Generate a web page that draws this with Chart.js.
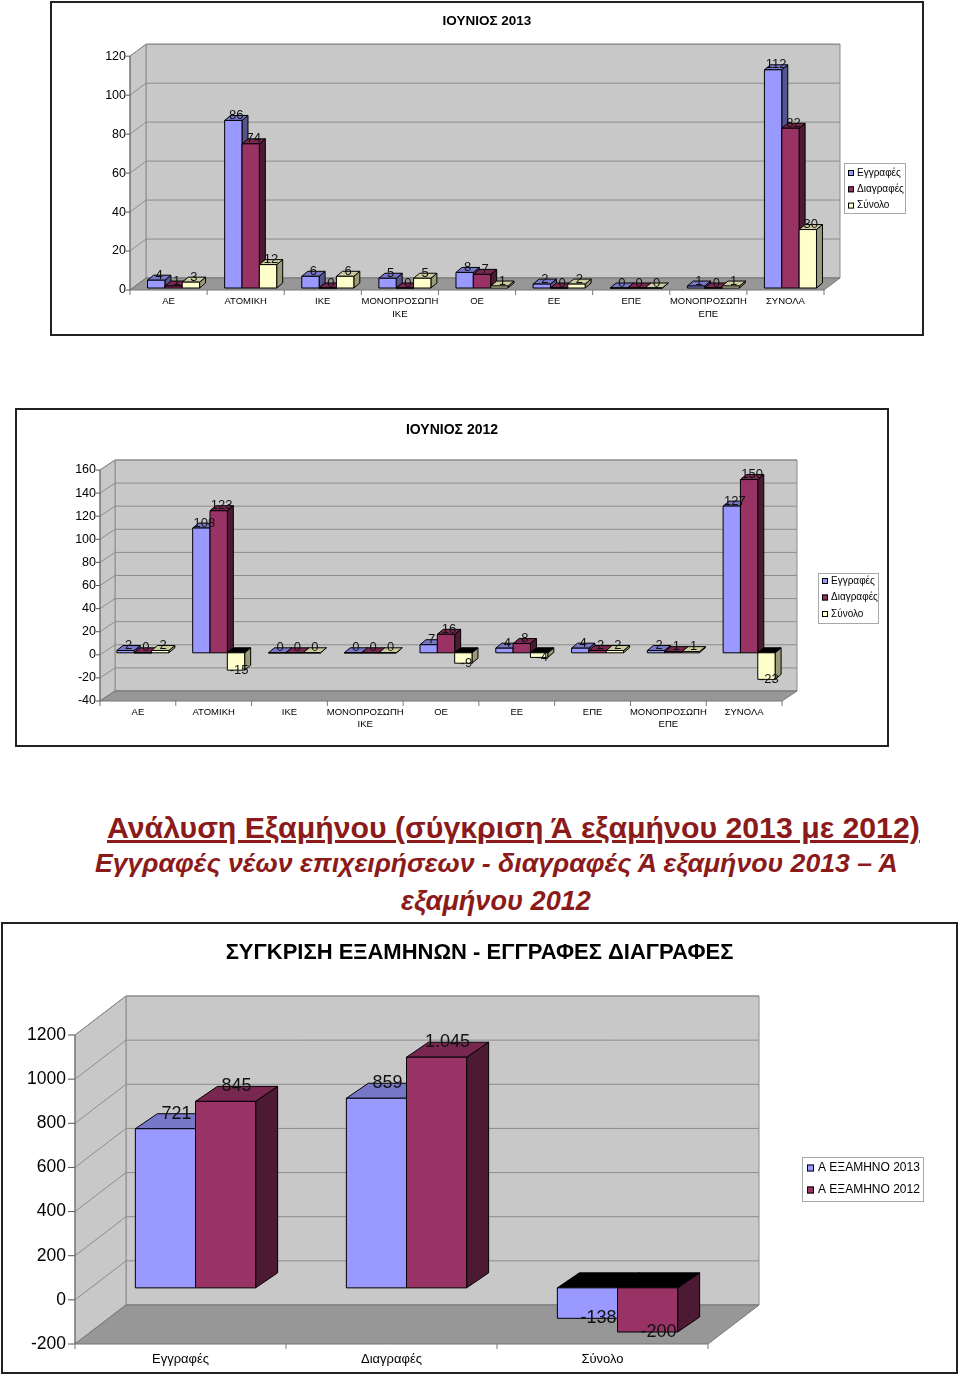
<!DOCTYPE html>
<html>
<head>
<meta charset="utf-8">
<title>Εγγραφές - Διαγραφές επιχειρήσεων</title>
<script src="https://cdn.jsdelivr.net/npm/chart.js@4.4.1/dist/chart.umd.min.js"></script>
<style>
    body { margin: 0; background: #fff; font-family: 'Liberation Sans', Arial, sans-serif; }
    #page { position: relative; width: 960px; height: 1377px; overflow: hidden; }
    .box { position: absolute; border: 2px solid #222; box-sizing: border-box; background: #fff; }
    .box canvas { position: absolute; left: 0; top: 0; }
    .head { position: absolute; white-space: nowrap; color: #8B1A1A; font-weight: bold; font-size: 30px; line-height: 1; }
</style>
</head>
<body>
<div id="page">
    <div class="box" style="left:50px;top:1px;width:874px;height:335px"><canvas id="june2013" width="870" height="331"></canvas></div>
    <div class="box" style="left:15px;top:408px;width:874px;height:339px"><canvas id="june2012" width="870" height="335"></canvas></div>
    <div class="head" data-left="107" data-width="813" data-base="839" style="text-decoration:underline">Ανάλυση Εξαμήνου (σύγκριση Ά εξαμήνου 2013 με 2012)</div>
    <div class="head" data-left="95" data-width="803" data-base="873" style="font-style:italic">Εγγραφές νέων επιχειρήσεων - διαγραφές Ά εξαμήνου 2013 – Ά</div>
    <div class="head" data-left="401" data-width="190" data-base="910" style="font-style:italic">εξαμήνου 2012</div>
    <div class="box" style="left:1px;top:922px;width:957px;height:452px"><canvas id="semester" width="953" height="448"></canvas></div>
</div>
<script>
// data
const companyTypes = ['ΑΕ', 'ΑΤΟΜΙΚΗ', 'ΙΚΕ', ['ΜΟΝΟΠΡΟΣΩΠΗ', 'ΙΚΕ'], 'ΟΕ', 'ΕΕ', 'ΕΠΕ', ['ΜΟΝΟΠΡΟΣΩΠΗ', 'ΕΠΕ'], 'ΣΥΝΟΛΑ'];
const seriesNames = ['Εγγραφές', 'Διαγραφές', 'Σύνολο'];

const reg2013 = [4, 86, 6, 5, 8, 2, 0, 1, 112];
const del2013 = [1, 74, 0, 0, 7, 0, 0, 0, 82];
const net2013 = [3, 12, 6, 5, 1, 2, 0, 1, 30];

const reg2012 = [2, 108, 0, 0, 7, 4, 4, 2, 127];
const del2012 = [0, 123, 0, 0, 16, 8, 2, 1, 150];
const net2012 = [2, -15, 0, 0, -9, -4, 2, 1, -23];

const semesterCats = ['Εγγραφές', 'Διαγραφές', 'Σύνολο'];
const semesterNames = ['Α ΕΞΑΜΗΝΟ 2013', 'Α ΕΞΑΜΗΝΟ 2012'];
const semester2013 = [721, 859, -138];
const semester2012 = [845, 1045, -200];

// axis ranges: [min, max, step]
const range2013 = [0, 120, 20];
const range2012 = [-40, 160, 20];
const rangeSemester = [-200, 1200, 200];

const FONT = "'Liberation Sans', Arial, sans-serif";
Chart.defaults.font.family = FONT;

// front, top, side
const BLUE = ['#9999FF', '#7777C8', '#55558E'];
const RED = ['#993366', '#782850', '#4C1A33'];
const YELLOW = ['#FFFFCC', '#CCCCA0', '#9A9A78'];

function series(label, data, colors) {
    return {
        label: label,
        data: data,
        yAxisID: 'y',
        backgroundColor: colors[0],
        topColor: colors[1],
        sideColor: colors[2],
        borderColor: '#000'
    };
}

function fmt(v) {
    return String(v).replace(/\B(?=(\d{3})+(?!\d))/g, '.');
}

// Excel-like 3D walls, floor and bars
const box3d = {
    id: 'box3d',
    beforeDatasetsDraw(chart, args, o) {
        const ctx = chart.ctx, a = chart.chartArea;
        const xs = chart.scales.x, ys = chart.scales.y;
        const [wx, wy] = o.wall, [ox, oy] = o.shift, [dx, dy] = o.depth;

        const poly = (pts, fill, stroke) => {
            ctx.beginPath();
            pts.forEach((p, k) => k ? ctx.lineTo(p[0], p[1]) : ctx.moveTo(p[0], p[1]));
            ctx.closePath();
            ctx.fillStyle = fill;
            ctx.fill();
            if (stroke) { ctx.strokeStyle = stroke; ctx.stroke(); }
        };
        const line = (x1, y1, x2, y2, color) => {
            ctx.beginPath();
            ctx.moveTo(x1, y1);
            ctx.lineTo(x2, y2);
            ctx.strokeStyle = color;
            ctx.stroke();
        };

        ctx.save();
        ctx.lineWidth = 1;

        // back wall and side wall
        poly([[a.left + wx, a.top + wy], [a.right + wx, a.top + wy], [a.right + wx, a.bottom + wy], [a.left + wx, a.bottom + wy]], '#C8C8C8', '#8C8C8C');
        poly([[a.left, a.top], [a.left + wx, a.top + wy], [a.left + wx, a.bottom + wy], [a.left, a.bottom]], '#C8C8C8', '#8C8C8C');

        ys.ticks.forEach(t => {
            const py = ys.getPixelForValue(t.value);
            line(a.left, py, a.left + wx, py + wy, '#8C8C8C');
            line(a.left + wx, py + wy, a.right + wx, py + wy, '#8C8C8C');
            line(a.left - o.tickLen, py, a.left, py, '#555');
        });

        // floor
        poly([[a.left, a.bottom], [a.right, a.bottom], [a.right + wx, a.bottom + wy], [a.left + wx, a.bottom + wy]], '#979797', '#777');
        line(a.left, a.top, a.left, a.bottom, '#666');
        for (let i = 0; i <= chart.data.labels.length; i++) {
            const px = xs.getPixelForValue(i - 0.5);
            line(px, a.bottom, px, a.bottom + 5, '#777');
        }

        // bars, category by category, left to right
        const metas = chart.getSortedVisibleDatasetMetas();
        chart.data.labels.forEach((lab, i) => {
            metas.forEach(meta => {
                const ds = chart.data.datasets[meta.index];
                const bar = meta.data[i];
                const l = bar.x - bar.width / 2 + ox, r = bar.x + bar.width / 2 + ox;
                const t = Math.min(bar.y, bar.base) + oy, b = Math.max(bar.y, bar.base) + oy;
                poly([[r, t], [r + dx, t + dy], [r + dx, b + dy], [r, b]], ds.sideColor, ds.borderColor);
                poly([[l, t], [l + dx, t + dy], [r + dx, t + dy], [r, t]], ds.data[i] < 0 ? '#000' : ds.topColor, ds.borderColor);
                poly([[l, t], [r, t], [r, b], [l, b]], ds.backgroundColor, ds.borderColor);
            });
        });

        ctx.restore();
        return false;
    },
    afterDraw(chart, args, o) {
        const ctx = chart.ctx;
        ctx.save();

        // value labels
        ctx.font = o.labelFont;
        ctx.fillStyle = '#111';
        ctx.textAlign = 'center';
        ctx.textBaseline = 'middle';
        chart.getSortedVisibleDatasetMetas().forEach(meta => {
            const ds = chart.data.datasets[meta.index];
            meta.data.forEach((bar, i) => {
                const v = ds.data[i];
                const px = bar.x + o.shift[0] + o.depth[0] / 2;
                const py = (v < 0 ? bar.y : bar.y + o.depth[1]) + o.shift[1];
                ctx.fillText(fmt(v), px, py);
            });
        });

        // legend box
        const lg = o.legend;
        ctx.lineWidth = 1;
        ctx.strokeStyle = '#A8A8A8';
        ctx.strokeRect(lg.x + 0.5, lg.y + 0.5, lg.w, lg.h);
        ctx.font = lg.font;
        ctx.textAlign = 'left';
        chart.data.datasets.forEach((ds, k) => {
            const ry = lg.y + lg.first + k * lg.step;
            ctx.fillStyle = ds.backgroundColor;
            ctx.fillRect(lg.mx, ry - lg.size / 2, lg.size, lg.size);
            ctx.strokeStyle = '#000';
            ctx.strokeRect(lg.mx + 0.5, ry - lg.size / 2 + 0.5, lg.size - 1, lg.size - 1);
            ctx.fillStyle = '#000';
            ctx.fillText(ds.label, lg.tx, ry);
        });
        ctx.restore();
    }
};

function buildChart(id, labels, datasets, range, s) {
    return new Chart(document.getElementById(id), {
        type: 'bar',
        data: { labels: labels, datasets: datasets },
        plugins: [box3d],
        options: {
            responsive: false,
            animation: false,
            layout: { padding: 0 },
            datasets: { bar: { categoryPercentage: s.group, barPercentage: 1 } },
            scales: {
                x: {
                    grid: { display: false, drawTicks: false },
                    border: { display: false },
                    ticks: { font: s.xFont, color: '#000', padding: s.xPad, maxRotation: 0, autoSkip: false },
                    afterFit: sc => { sc.height = s.xHeight; }
                },
                y: {
                    min: range[0],
                    max: range[1],
                    grid: { display: false, drawTicks: false },
                    border: { display: false },
                    ticks: { stepSize: range[2], font: s.yFont, color: '#000', padding: s.yPad, callback: v => String(v) },
                    afterFit: sc => { sc.width = s.yWidth; }
                },
                pad: {
                    type: 'linear',
                    position: 'right',
                    grid: { display: false, drawTicks: false },
                    border: { display: false },
                    ticks: { display: false },
                    afterFit: sc => { sc.width = s.padWidth; }
                }
            },
            plugins: {
                legend: { display: false },
                tooltip: { enabled: false },
                title: {
                    display: true,
                    text: s.title,
                    color: '#000',
                    font: s.titleFont,
                    padding: s.titlePad
                },
                box3d: s.box
            }
        }
    });
}

buildChart('june2013', companyTypes, [
    series(seriesNames[0], reg2013, BLUE),
    series(seriesNames[1], del2013, RED),
    series(seriesNames[2], net2013, YELLOW)
], range2013, {
    title: 'ΙΟΥΝΙΟΣ 2013',
    titleFont: { size: 13.5, weight: 'bold' },
    titlePad: { top: 10, bottom: 27 },
    group: 0.675,
    xFont: { size: 9.5, lineHeight: 1.37 },
    xPad: 4.5,
    xHeight: 44,
    yFont: { size: 12.5 },
    yPad: 4,
    yWidth: 78,
    padWidth: 98,
    box: {
        wall: [16, -12], shift: [5, -2], depth: [6, -5], tickLen: 4,
        labelFont: '13px ' + FONT,
        legend: { x: 792, y: 160, w: 61, h: 50, mx: 796, size: 6, tx: 805, first: 10, step: 16.3, font: '10px ' + FONT }
    }
});

buildChart('june2012', companyTypes, [
    series(seriesNames[0], reg2012, BLUE),
    series(seriesNames[1], del2012, RED),
    series(seriesNames[2], net2012, YELLOW)
], range2012, {
    title: 'ΙΟΥΝΙΟΣ 2012',
    titleFont: { size: 14, weight: 'bold' },
    titlePad: { top: 11.6, bottom: 31.6 },
    group: 0.686,
    xFont: { size: 9.5, lineHeight: 1.3 },
    xPad: 4.8,
    xHeight: 44,
    yFont: { size: 12.5 },
    yPad: 4,
    yWidth: 83,
    padWidth: 105,
    box: {
        wall: [15, -10], shift: [5, -2], depth: [6, -5], tickLen: 4,
        labelFont: '13px ' + FONT,
        legend: { x: 801, y: 163, w: 60, h: 50, mx: 805, size: 6, tx: 814, first: 8, step: 16.5, font: '10px ' + FONT }
    }
});

buildChart('semester', semesterCats, [
    series(semesterNames[0], semester2013, BLUE),
    series(semesterNames[1], semester2012, RED)
], rangeSemester, {
    title: 'ΣΥΓΚΡΙΣΗ ΕΞΑΜΗΝΩΝ - ΕΓΓΡΑΦΕΣ ΔΙΑΓΡΑΦΕΣ',
    titleFont: { size: 22, weight: 'bold' },
    titlePad: { top: 15.8, bottom: 68.8 },
    group: 0.57,
    xFont: { size: 13 },
    xPad: 8,
    xHeight: 28,
    yFont: { size: 17.5 },
    yPad: 9,
    yWidth: 72,
    padWidth: 248,
    box: {
        wall: [51, -39], shift: [15, -12], depth: [22, -15], tickLen: 7,
        labelFont: '18px ' + FONT,
        legend: { x: 799, y: 233, w: 121, h: 44, mx: 804, size: 7, tx: 815, first: 11, step: 22, font: '12px ' + FONT }
    }
});

// headings: scale each line to the width it has in the original
document.querySelectorAll('.head').forEach(el => {
    const w = el.getBoundingClientRect().width;
    const fs = 30 * (+el.dataset.width) / w;
    el.style.fontSize = fs + 'px';
    el.style.left = el.dataset.left + 'px';
    el.style.top = (+el.dataset.base - 0.85 * fs) + 'px';
});
</script>
</body>
</html>
